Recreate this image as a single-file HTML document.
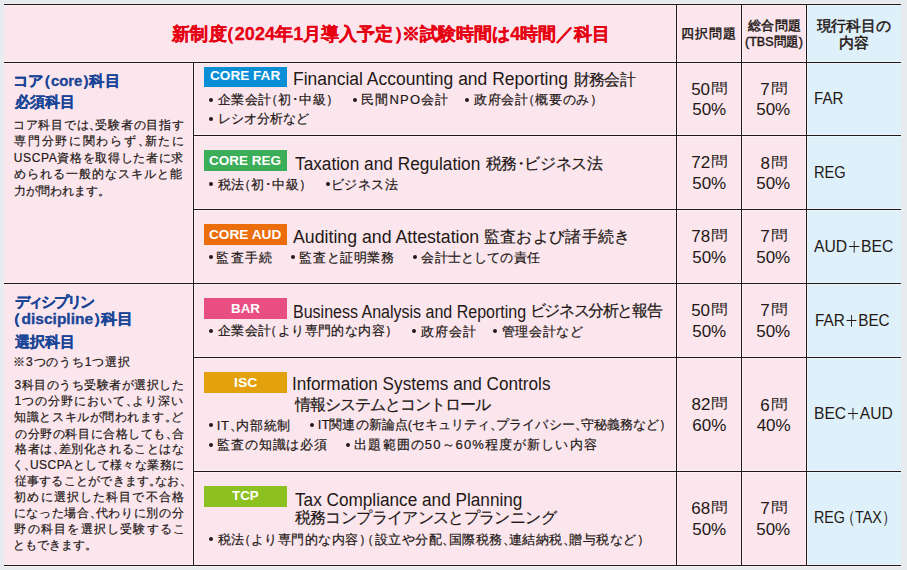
<!DOCTYPE html>
<html lang="ja"><head><meta charset="utf-8"><style>
html,body{margin:0;padding:0;}
body{width:907px;height:570px;background:#e8ebed;position:relative;overflow:hidden;font-family:"Liberation Sans",sans-serif;color:#231815;}
.t{position:absolute;white-space:nowrap;line-height:1;transform-origin:0 0;}
.pk{position:absolute;background:#fbe6ee;}
.bl{position:absolute;background:#def0fa;}
.h{position:absolute;height:1px;background:#231815;}
.hh{position:absolute;height:3px;background:rgba(255,255,255,.4);}
.v{position:absolute;width:1px;background:#231815;}
.vh{position:absolute;width:3px;background:rgba(255,255,255,.4);}
.bd{position:absolute;left:204px;width:83px;height:20px;}
.dot{position:absolute;width:4px;height:4px;border-radius:50%;background:#231815;}
.po{margin-left:-0.55em;}
.po2{margin-left:-0.3em;}
.pc{margin-right:-0.55em;}
.mon{display:inline-block;margin-left:1px;transform:scale(0.96,0.8);transform-origin:0 20%;}
.sk{-webkit-text-stroke-width:0.2px;}
.skb{-webkit-text-stroke-width:0.3px;}
.skm{-webkit-text-stroke-width:0.45px;}
.pl{display:inline-block;width:0.68em;height:0.66em;margin:0 0.1em;vertical-align:-0.02em;color:transparent;font-size:inherit;overflow:hidden;background:linear-gradient(#231815,#231815) center/100% 1.2px no-repeat,linear-gradient(#231815,#231815) center/1.2px 100% no-repeat;}
.pm{margin-left:-0.25em;margin-right:-0.25em;}
</style></head><body>
<div class="pk" style="left:4px;top:4px;width:803px;height:562px;"></div>
<div class="bl" style="left:807px;top:4px;width:94px;height:562px;"></div>
<div class="hh" style="left:4px;top:3px;width:897px;"></div>
<div class="hh" style="left:4px;top:61px;width:897px;"></div>
<div class="hh" style="left:193px;top:134px;width:708px;"></div>
<div class="hh" style="left:193px;top:208px;width:708px;"></div>
<div class="hh" style="left:4px;top:282px;width:897px;"></div>
<div class="hh" style="left:193px;top:356px;width:708px;"></div>
<div class="hh" style="left:193px;top:470px;width:708px;"></div>
<div class="hh" style="left:4px;top:564px;width:897px;"></div>
<div class="vh" style="left:192px;top:62px;height:504px;"></div>
<div class="vh" style="left:675px;top:4px;height:562px;"></div>
<div class="vh" style="left:740px;top:4px;height:562px;"></div>
<div class="vh" style="left:805px;top:4px;height:562px;"></div>
<div class="h" style="left:4px;top:4px;width:897px;"></div>
<div class="h" style="left:4px;top:62px;width:897px;"></div>
<div class="h" style="left:193px;top:135px;width:708px;"></div>
<div class="h" style="left:193px;top:209px;width:708px;"></div>
<div class="h" style="left:4px;top:283px;width:897px;"></div>
<div class="h" style="left:193px;top:357px;width:708px;"></div>
<div class="h" style="left:193px;top:471px;width:708px;"></div>
<div class="h" style="left:4px;top:565px;width:897px;"></div>
<div class="v" style="left:193px;top:62px;height:504px;"></div>
<div class="v" style="left:676px;top:4px;height:562px;"></div>
<div class="v" style="left:741px;top:4px;height:562px;"></div>
<div class="v" style="left:806px;top:4px;height:562px;"></div>
<div class="bd" style="top:67px;height:20px;background:#0a8fd6;"></div>
<div class="bd" style="top:150px;height:21px;background:#3cad58;"></div>
<div class="bd" style="top:224px;height:21px;background:#ec6d0c;"></div>
<div class="bd" style="top:298px;height:21px;background:#e94e83;"></div>
<div class="bd" style="top:372px;height:21px;background:#e3a20d;"></div>
<div class="bd" style="top:486px;height:21px;background:#8cc121;"></div>
<div class="dot" style="left:209.00px;top:97.65px;"></div>
<div class="dot" style="left:353.00px;top:97.65px;"></div>
<div class="dot" style="left:465.30px;top:97.65px;"></div>
<div class="dot" style="left:209.00px;top:117.30px;"></div>
<div class="dot" style="left:209.00px;top:182.00px;"></div>
<div class="dot" style="left:325.70px;top:182.00px;"></div>
<div class="dot" style="left:209.00px;top:255.40px;"></div>
<div class="dot" style="left:291.30px;top:255.40px;"></div>
<div class="dot" style="left:413.00px;top:255.40px;"></div>
<div class="dot" style="left:209.00px;top:329.40px;"></div>
<div class="dot" style="left:411.70px;top:329.40px;"></div>
<div class="dot" style="left:492.90px;top:329.40px;"></div>
<div class="dot" style="left:209.00px;top:423.20px;"></div>
<div class="dot" style="left:309.80px;top:423.20px;"></div>
<div class="dot" style="left:209.00px;top:442.75px;"></div>
<div class="dot" style="left:346.30px;top:442.75px;"></div>
<div class="dot" style="left:209.00px;top:537.20px;"></div>
<div class="t skb" id="hd" style="left:172.42px;top:24.98px;font-size:18.00px;font-weight:bold;color:#e60012;letter-spacing:0.064px;">新制度<span class="po">（</span>2024年1月導入予定<span class="pc">）</span>※試験時間は4時間／科目</div>
<div class="t skm" id="th1" style="left:681.43px;top:26.74px;font-size:13.00px;font-weight:normal;color:#231815;letter-spacing:1.006px;">四択問題</div>
<div class="t skm" id="th2" style="left:747.90px;top:18.91px;font-size:13.00px;font-weight:normal;color:#231815;letter-spacing:0.414px;">総合問題</div>
<div class="t skm" id="th3" style="left:744.89px;top:35.41px;font-size:13.00px;font-weight:normal;color:#231815;transform:scaleX(0.9649);">(TBS問題)</div>
<div class="t skm" id="th4" style="left:816.63px;top:19.01px;font-size:14.50px;font-weight:normal;color:#231815;letter-spacing:-0.229px;">現行科目の</div>
<div class="t skm" id="th5" style="left:838.50px;top:35.55px;font-size:14.50px;font-weight:normal;color:#231815;letter-spacing:0.236px;">内容</div>
<div class="t skb" id="lc1" style="left:13.19px;top:73.72px;font-size:14.50px;font-weight:bold;color:#1a4596;transform:scaleX(1.0240);">コア<span class="po">（</span>core<span class="pc">）</span>科目</div>
<div class="t skb" id="lc2" style="left:14.85px;top:95.23px;font-size:14.50px;font-weight:bold;color:#1a4596;letter-spacing:0.067px;">必須科目</div>
<div class="t sk" id="cb0" style="left:12.89px;top:118.69px;font-size:12.00px;font-weight:normal;color:#231815;letter-spacing:0.730px;">コア科目では<span class="pc">、</span>受験者の目指す</div>
<div class="t sk" id="cb1" style="left:14.20px;top:135.44px;font-size:12.00px;font-weight:normal;color:#231815;letter-spacing:1.714px;">専門分野に関わらず<span class="pc">、</span>新たに</div>
<div class="t sk" id="cb2" style="left:13.78px;top:151.98px;font-size:12.00px;font-weight:normal;color:#231815;letter-spacing:0.643px;">USCPA資格を取得した者に求</div>
<div class="t sk" id="cb3" style="left:14.04px;top:167.93px;font-size:12.00px;font-weight:normal;color:#231815;letter-spacing:1.034px;">められる一般的なスキルと能</div>
<div class="t sk" id="cb4" style="left:14.15px;top:184.77px;font-size:12.00px;font-weight:normal;color:#231815;">力が問われます<span class="pc">。</span></div>
<div class="t skb" id="ld1" style="left:14.76px;top:294.66px;font-size:14.50px;font-weight:bold;color:#1a4596;letter-spacing:-2.043px;">ディシプリン</div>
<div class="t skb" id="ld2" style="left:14.04px;top:312.02px;font-size:14.50px;font-weight:bold;color:#1a4596;transform:scaleX(1.0699);"><span class="po">（</span>discipline<span class="pc">）</span>科目</div>
<div class="t skb" id="ld3" style="left:15.03px;top:334.82px;font-size:14.50px;font-weight:bold;color:#1a4596;letter-spacing:0.040px;">選択科目</div>
<div class="t sk" id="ld4" style="left:13.20px;top:356.05px;font-size:12.00px;font-weight:normal;color:#231815;letter-spacing:0.834px;">※3つのうち1つ選択</div>
<div class="t sk" id="db0" style="left:14.51px;top:379.01px;font-size:12.00px;font-weight:normal;color:#231815;letter-spacing:0.505px;">3科目のうち受験者が選択した</div>
<div class="t sk" id="db1" style="left:14.44px;top:395.05px;font-size:12.00px;font-weight:normal;color:#231815;letter-spacing:0.966px;">1つの分野において<span class="pc">、</span>より深い</div>
<div class="t sk" id="db2" style="left:14.41px;top:410.82px;font-size:12.00px;font-weight:normal;color:#231815;letter-spacing:0.541px;">知識とスキルが問われます<span class="pc">。</span>ど</div>
<div class="t sk" id="db3" style="left:15.22px;top:427.72px;font-size:12.00px;font-weight:normal;color:#231815;letter-spacing:0.550px;">の分野の科目に合格しても<span class="pc">、</span>合</div>
<div class="t sk" id="db4" style="left:15.21px;top:442.68px;font-size:12.00px;font-weight:normal;color:#231815;letter-spacing:0.542px;">格者は<span class="pc">、</span>差別化されることはな</div>
<div class="t sk" id="db5" style="left:11.70px;top:459.00px;font-size:12.00px;font-weight:normal;color:#231815;letter-spacing:0.447px;">く<span class="pc">、</span>USCPAとして様々な業務に</div>
<div class="t sk" id="db6" style="left:14.50px;top:474.75px;font-size:12.00px;font-weight:normal;color:#231815;letter-spacing:0.266px;">従事することができます<span class="pc">。</span>なお<span class="pc">、</span></div>
<div class="t sk" id="db7" style="left:14.27px;top:491.07px;font-size:12.00px;font-weight:normal;color:#231815;letter-spacing:1.127px;">初めに選択した科目で不合格</div>
<div class="t sk" id="db8" style="left:13.56px;top:507.43px;font-size:12.00px;font-weight:normal;color:#231815;letter-spacing:0.667px;">になった場合<span class="pc">、</span>代わりに別の分</div>
<div class="t sk" id="db9" style="left:14.32px;top:523.28px;font-size:12.00px;font-weight:normal;color:#231815;letter-spacing:1.239px;">野の科目を選択し受験するこ</div>
<div class="t sk" id="db10" style="left:12.81px;top:539.21px;font-size:12.00px;font-weight:normal;color:#231815;">ともできます<span class="pc">。</span></div>
<div class="t" id="bg1" style="left:209.54px;top:69.43px;font-size:13.50px;font-weight:bold;color:#fff;transform:scaleX(1.0063);">CORE FAR</div>
<div class="t" id="bg2" style="left:208.96px;top:153.73px;font-size:13.50px;font-weight:bold;color:#fff;transform:scaleX(0.9987);">CORE REG</div>
<div class="t" id="bg3" style="left:208.65px;top:227.73px;font-size:13.50px;font-weight:bold;color:#fff;transform:scaleX(1.0106);">CORE AUD</div>
<div class="t" id="bg4" style="left:230.92px;top:302.12px;font-size:13.50px;font-weight:bold;color:#fff;transform:scaleX(0.9931);">BAR</div>
<div class="t" id="bg5" style="left:233.80px;top:375.70px;font-size:13.50px;font-weight:bold;color:#fff;transform:scaleX(1.0373);">ISC</div>
<div class="t" id="bg6" style="left:232.34px;top:488.72px;font-size:13.50px;font-weight:bold;color:#fff;transform:scaleX(0.9868);">TCP</div>
<div class="t" id="t1a" style="left:292.93px;top:70.00px;font-size:18.00px;font-weight:normal;color:#231815;transform:scaleX(0.9709);">Financial Accounting and Reporting</div>
<div class="t sk" id="t1b" style="left:573.52px;top:71.53px;font-size:16.00px;font-weight:normal;color:#231815;letter-spacing:-0.572px;">財務会計</div>
<div class="t" id="t2a" style="left:294.65px;top:155.00px;font-size:18.00px;font-weight:normal;color:#231815;transform:scaleX(0.9591);">Taxation and Regulation</div>
<div class="t sk" id="t2b" style="left:485.67px;top:155.62px;font-size:16.00px;font-weight:normal;color:#231815;letter-spacing:-0.409px;">税務<span class="pm">・</span>ビジネス法</div>
<div class="t" id="t3a" style="left:292.64px;top:228.00px;font-size:18.00px;font-weight:normal;color:#231815;transform:scaleX(0.9845);">Auditing and Attestation</div>
<div class="t sk" id="t3b" style="left:483.54px;top:228.67px;font-size:16.00px;font-weight:normal;color:#231815;letter-spacing:0.354px;">監査および諸手続き</div>
<div class="t" id="t4a" style="left:293.07px;top:303.00px;font-size:18.00px;font-weight:normal;color:#231815;transform:scaleX(0.8893);">Business Analysis and Reporting</div>
<div class="t sk" id="t4b" style="left:529.83px;top:302.86px;font-size:16.00px;font-weight:normal;color:#231815;letter-spacing:-1.415px;">ビジネス分析と報告</div>
<div class="t" id="t5a" style="left:292.30px;top:375.00px;font-size:18.00px;font-weight:normal;color:#231815;transform:scaleX(0.9533);">Information Systems and Controls</div>
<div class="t sk" id="t5b" style="left:294.75px;top:397.00px;font-size:15.50px;font-weight:normal;color:#231815;letter-spacing:-0.963px;">情報システムとコントロール</div>
<div class="t" id="t6a" style="left:294.65px;top:491.00px;font-size:18.00px;font-weight:normal;color:#231815;transform:scaleX(0.9548);">Tax Compliance and Planning</div>
<div class="t sk" id="t6b" style="left:294.67px;top:509.90px;font-size:15.50px;font-weight:normal;color:#231815;letter-spacing:-0.631px;">税務コンプライアンスとプランニング</div>
<div class="t sk" id="b1a" style="left:217.65px;top:93.48px;font-size:13.00px;font-weight:normal;color:#231815;letter-spacing:0.530px;">企業会計<span class="po">（</span>初･中級<span class="pc">）</span></div>
<div class="t sk" id="b1b" style="left:361.23px;top:93.46px;font-size:13.00px;font-weight:normal;color:#231815;letter-spacing:1.160px;">民間NPO会計</div>
<div class="t sk" id="b1c" style="left:473.84px;top:93.04px;font-size:13.00px;font-weight:normal;color:#231815;letter-spacing:0.720px;">政府会計<span class="po">（</span>概要のみ<span class="pc">）</span></div>
<div class="t sk" id="b1d" style="left:217.51px;top:112.09px;font-size:13.00px;font-weight:normal;color:#231815;letter-spacing:0.109px;">レシオ分析など</div>
<div class="t sk" id="b2a" style="left:217.68px;top:177.68px;font-size:13.00px;font-weight:normal;color:#231815;letter-spacing:0.522px;">税法<span class="po">（</span>初･中級<span class="pc">）</span></div>
<div class="t sk" id="b2b" style="left:331.03px;top:177.52px;font-size:13.00px;font-weight:normal;color:#231815;letter-spacing:0.484px;">ビジネス法</div>
<div class="t sk" id="b3a" style="left:216.39px;top:250.64px;font-size:13.00px;font-weight:normal;color:#231815;letter-spacing:1.204px;">監査手続</div>
<div class="t sk" id="b3b" style="left:299.39px;top:250.56px;font-size:13.00px;font-weight:normal;color:#231815;letter-spacing:0.616px;">監査と証明業務</div>
<div class="t sk" id="b3c" style="left:421.37px;top:251.10px;font-size:13.00px;font-weight:normal;color:#231815;letter-spacing:0.173px;">会計士としての責任</div>
<div class="t sk" id="b4a" style="left:217.65px;top:324.11px;font-size:13.00px;font-weight:normal;color:#231815;letter-spacing:0.436px;">企業会計<span class="po">（</span>より専門的な内容<span class="pc">）</span></div>
<div class="t sk" id="b4b" style="left:420.84px;top:324.89px;font-size:13.00px;font-weight:normal;color:#231815;letter-spacing:0.935px;">政府会計</div>
<div class="t sk" id="b4c" style="left:501.97px;top:324.98px;font-size:13.00px;font-weight:normal;color:#231815;letter-spacing:0.516px;">管理会計など</div>
<div class="t sk" id="b5a" style="left:216.81px;top:418.52px;font-size:13.00px;font-weight:normal;color:#231815;letter-spacing:0.707px;">IT<span class="pc">、</span>内部統制</div>
<div class="t sk" id="b5b" style="left:317.81px;top:418.40px;font-size:13.00px;font-weight:normal;color:#231815;letter-spacing:0.048px;">IT関連の新論点(セキュリティ<span class="pc">、</span>プライバシー<span class="pc">、</span>守秘義務など<span class="pc">）</span></div>
<div class="t sk" id="b5c" style="left:217.39px;top:438.37px;font-size:13.00px;font-weight:normal;color:#231815;letter-spacing:0.813px;">監査の知識は必須</div>
<div class="t sk" id="b5d" style="left:354.36px;top:438.16px;font-size:13.00px;font-weight:normal;color:#231815;letter-spacing:1.100px;">出題範囲の50～60%程度が新しい内容</div>
<div class="t sk" id="b6a" style="left:217.68px;top:532.51px;font-size:13.00px;font-weight:normal;color:#231815;letter-spacing:0.483px;">税法<span class="po">（</span>より専門的な内容<span class="pc">）</span><span class="po2">（</span>設立や分配<span class="pc">、</span>国際税務<span class="pc">、</span>連結納税<span class="pc">、</span>贈与税など<span class="pc">）</span></div>
<div class="t" id="q1_0" style="left:691.13px;top:81.02px;font-size:17.00px;font-weight:normal;color:#231815;">50<span class="mon">問</span></div>
<div class="t" id="p1_0" style="left:692.19px;top:101.25px;font-size:17.00px;font-weight:normal;color:#231815;">50%</div>
<div class="t" id="q2_0" style="left:760.36px;top:81.02px;font-size:17.00px;font-weight:normal;color:#231815;">7<span class="mon">問</span></div>
<div class="t" id="p2_0" style="left:756.19px;top:101.25px;font-size:17.00px;font-weight:normal;color:#231815;">50%</div>
<div class="t" id="q1_1" style="left:691.36px;top:154.02px;font-size:17.00px;font-weight:normal;color:#231815;">72<span class="mon">問</span></div>
<div class="t" id="p1_1" style="left:692.19px;top:175.25px;font-size:17.00px;font-weight:normal;color:#231815;">50%</div>
<div class="t" id="q2_1" style="left:760.61px;top:154.83px;font-size:17.00px;font-weight:normal;color:#231815;">8<span class="mon">問</span></div>
<div class="t" id="p2_1" style="left:756.19px;top:175.25px;font-size:17.00px;font-weight:normal;color:#231815;">50%</div>
<div class="t" id="q1_2" style="left:691.36px;top:228.02px;font-size:17.00px;font-weight:normal;color:#231815;">78<span class="mon">問</span></div>
<div class="t" id="p1_2" style="left:692.19px;top:249.25px;font-size:17.00px;font-weight:normal;color:#231815;">50%</div>
<div class="t" id="q2_2" style="left:760.36px;top:228.02px;font-size:17.00px;font-weight:normal;color:#231815;">7<span class="mon">問</span></div>
<div class="t" id="p2_2" style="left:756.19px;top:249.25px;font-size:17.00px;font-weight:normal;color:#231815;">50%</div>
<div class="t" id="q1_3" style="left:691.13px;top:302.02px;font-size:17.00px;font-weight:normal;color:#231815;">50<span class="mon">問</span></div>
<div class="t" id="p1_3" style="left:692.19px;top:323.25px;font-size:17.00px;font-weight:normal;color:#231815;">50%</div>
<div class="t" id="q2_3" style="left:760.36px;top:302.02px;font-size:17.00px;font-weight:normal;color:#231815;">7<span class="mon">問</span></div>
<div class="t" id="p2_3" style="left:756.19px;top:323.25px;font-size:17.00px;font-weight:normal;color:#231815;">50%</div>
<div class="t" id="q1_4" style="left:691.53px;top:396.02px;font-size:17.00px;font-weight:normal;color:#231815;">82<span class="mon">問</span></div>
<div class="t" id="p1_4" style="left:692.29px;top:417.14px;font-size:17.00px;font-weight:normal;color:#231815;">60%</div>
<div class="t" id="q2_4" style="left:760.36px;top:396.72px;font-size:17.00px;font-weight:normal;color:#231815;">6<span class="mon">問</span></div>
<div class="t" id="p2_4" style="left:756.63px;top:416.79px;font-size:17.00px;font-weight:normal;color:#231815;">40%</div>
<div class="t" id="q1_5" style="left:691.36px;top:500.00px;font-size:17.00px;font-weight:normal;color:#231815;">68<span class="mon">問</span></div>
<div class="t" id="p1_5" style="left:692.19px;top:521.25px;font-size:17.00px;font-weight:normal;color:#231815;">50%</div>
<div class="t" id="q2_5" style="left:760.36px;top:500.02px;font-size:17.00px;font-weight:normal;color:#231815;">7<span class="mon">問</span></div>
<div class="t" id="p2_5" style="left:756.19px;top:521.25px;font-size:17.00px;font-weight:normal;color:#231815;">50%</div>
<div class="t" id="c0" style="left:814.11px;top:90.25px;font-size:17.00px;font-weight:normal;color:#231815;transform:scaleX(0.8901);">FAR</div>
<div class="t" id="c1" style="left:813.92px;top:164.25px;font-size:17.00px;font-weight:normal;color:#231815;transform:scaleX(0.8622);">REG</div>
<div class="t" id="c2" style="left:814.26px;top:238.25px;font-size:17.00px;font-weight:normal;color:#231815;transform:scaleX(0.9239);">AUD<span class="pl">＋</span>BEC</div>
<div class="t" id="c3" style="left:814.75px;top:312.25px;font-size:17.00px;font-weight:normal;color:#231815;transform:scaleX(0.9002);">FAR<span class="pl">＋</span>BEC</div>
<div class="t" id="c4" style="left:814.19px;top:405.25px;font-size:17.00px;font-weight:normal;color:#231815;transform:scaleX(0.9169);">BEC<span class="pl">＋</span>AUD</div>
<div class="t" id="c5" style="left:814.19px;top:509.25px;font-size:17.00px;font-weight:normal;color:#231815;transform:scaleX(0.8414);">REG<span class="po2">（</span>TAX<span class="pc">）</span></div>
</body></html>
